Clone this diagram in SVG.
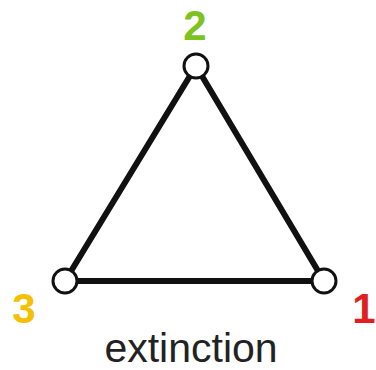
<svg xmlns="http://www.w3.org/2000/svg" width="376" height="370" viewBox="0 0 376 370">
<style>
.edge{stroke:#111;stroke-width:6;stroke-linecap:round;fill:none}
.node{fill:#fff;stroke:#111;stroke-width:3}
.num{font-family:"Liberation Sans",Arial,sans-serif;font-weight:bold;font-size:42px;text-anchor:middle}
.cap{font-family:"Liberation Sans",Arial,sans-serif;font-size:41px;fill:#222;text-anchor:middle}
</style>
<rect width="376" height="370" fill="#fff"/>
<g id="connectors">
<line class="edge" x1="196" y1="66" x2="65" y2="281"/>
<line class="edge" x1="196" y1="66" x2="324" y2="281"/>
<line class="edge" x1="65" y1="281" x2="324" y2="281"/>
</g>
<g id="node2"><circle class="node" cx="196" cy="66" r="12"/><text class="num" x="195" y="40" fill="#7DC21E">2</text></g>
<g id="node3"><circle class="node" cx="65" cy="281" r="12"/><text class="num" x="24" y="323" fill="#F5C000">3</text></g>
<g id="node1"><circle class="node" cx="324" cy="281" r="12"/><text class="num" x="364" y="323" fill="#E02020">1</text></g>
<text class="cap" x="191" y="362">extinction</text>
</svg>
